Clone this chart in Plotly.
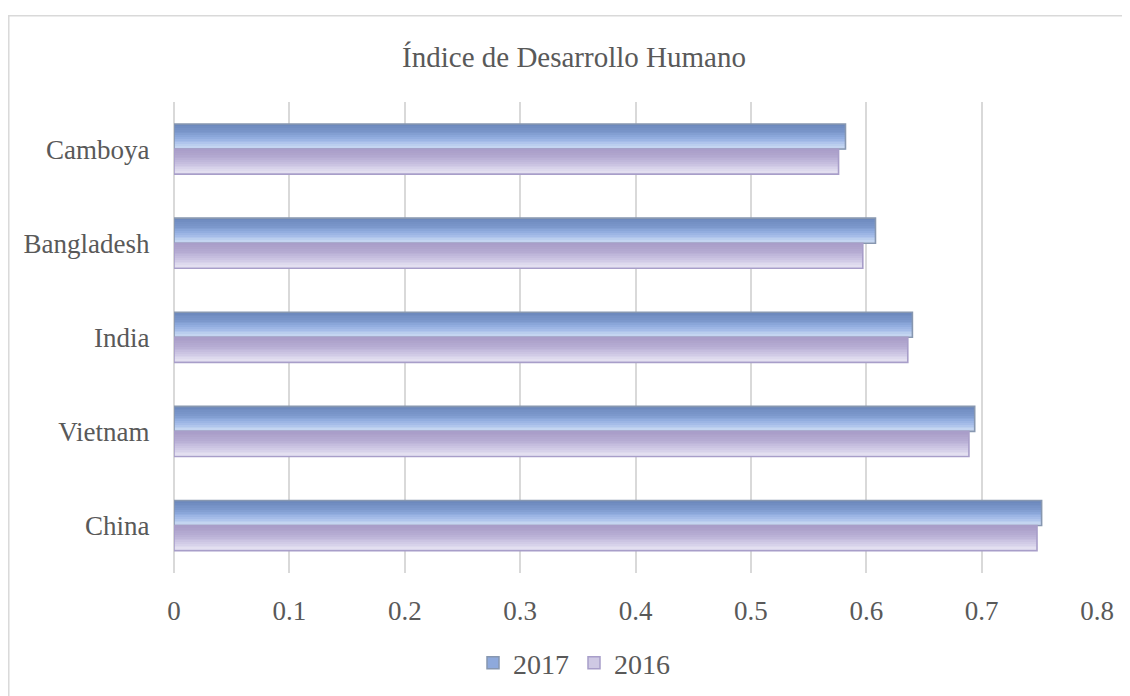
import plotly.graph_objects as go

# ---- data ----
countries = ["China", "Vietnam", "India", "Bangladesh", "Camboya"]
idh_2017 = [0.752, 0.694, 0.640, 0.608, 0.582]
idh_2016 = [0.748, 0.689, 0.636, 0.597, 0.576]
series_names = ["2017", "2016"]
x_ticks = [0, 0.1, 0.2, 0.3, 0.4, 0.5, 0.6, 0.7, 0.8]

# ---- styling ----
FONT = "Liberation Serif"
TXT = "#595959"
GRID = "#d9d9d9"
BAR_H = 0.266
N_STRIPS = 14

# figure is placed with the page's default 8px body margin
FIG_W, FIG_H = 1122, 688

# gradients listed bottom -> top
grad_2017 = ["#d3e0f4", "#bccfef", "#a3bbe8", "#8ea9dc", "#7d99cd", "#7490c4", "#6b87bb"]
grad_2016 = ["#ebe9f5", "#dedaee", "#d0cae5", "#c2badc", "#b6acd3", "#aea3cc", "#a99dc8"]
edge_2017 = "#8797b0"
edge_2016 = "#a89ec9"


def hex2rgb(h):
    h = h.lstrip("#")
    return tuple(int(h[i:i + 2], 16) for i in (0, 2, 4))


def interp(stops, t):
    n = len(stops) - 1
    pos = t * n
    i = min(int(pos), n - 1)
    f = pos - i
    a, b = hex2rgb(stops[i]), hex2rgb(stops[i + 1])
    c = [round(a[j] + (b[j] - a[j]) * f) for j in range(3)]
    return "rgb(%d,%d,%d)" % tuple(c)


fig = go.Figure()

# legend-only entries
fig.add_trace(go.Bar(x=[None], y=[None], orientation="h", name=series_names[0],
                     marker=dict(color="#8ea9dc", line=dict(color=edge_2017, width=1.5)),
                     showlegend=True))
fig.add_trace(go.Bar(x=[None], y=[None], orientation="h", name=series_names[1],
                     marker=dict(color="#cfc9e4", line=dict(color=edge_2016, width=1.5)),
                     showlegend=True))

series = [
    (idh_2017, grad_2017, edge_2017, 0.0),
    (idh_2016, grad_2016, edge_2016, -BAR_H),
]

for vals, grad, edge, base in series:
    sh = BAR_H / N_STRIPS
    for k in range(N_STRIPS):
        t = (k + 0.5) / N_STRIPS
        fig.add_trace(go.Bar(
            x=vals, y=countries, orientation="h",
            offset=base + k * sh, width=sh * 1.08,
            marker=dict(color=interp(grad, t), line=dict(width=0)),
            showlegend=False, hoverinfo="skip"))
    fig.add_trace(go.Bar(
        x=vals, y=countries, orientation="h",
        offset=base, width=BAR_H,
        marker=dict(color="rgba(0,0,0,0)", line=dict(color=edge, width=1.6)),
        showlegend=False, hoverinfo="skip"))

fig.update_layout(
    width=FIG_W, height=FIG_H,
    paper_bgcolor="white", plot_bgcolor="white",
    barmode="overlay",
    margin=dict(l=166, r=33, t=94, b=119),
    font=dict(family=FONT, color=TXT),
    title=dict(text="Índice de Desarrollo Humano", x=566 / FIG_W, xref="container",
               xanchor="center", y=1 - 49 / FIG_H, yref="container", yanchor="middle",
               font=dict(family=FONT, size=29, color=TXT)),
    legend=dict(orientation="h", x=566 / FIG_W, xref="container", xanchor="center",
                y=1 - 655 / FIG_H, yref="container", yanchor="middle",
                font=dict(family=FONT, size=28, color=TXT), traceorder="normal",
                bgcolor="rgba(0,0,0,0)"),
    showlegend=True,
)

fig.update_xaxes(range=[0, 0.8], tickvals=x_ticks, ticktext=[("%g" % v) for v in x_ticks],
                 showgrid=True, gridcolor=GRID, gridwidth=1.5,
                 zeroline=True, zerolinecolor=GRID, zerolinewidth=1.5,
                 showline=False, ticks="outside", ticklen=14,
                 tickcolor="rgba(0,0,0,0)",
                 tickfont=dict(family=FONT, size=27, color=TXT))
fig.update_yaxes(type="category", categoryorder="array", categoryarray=countries,
                 range=[-0.5, 4.5], showgrid=False, zeroline=False, showline=False,
                 ticks="outside", ticklen=18, tickcolor="rgba(0,0,0,0)",
                 tickfont=dict(family=FONT, size=27, color=TXT))

# chart-area border (top and left edges visible in the reference)
fig.add_shape(type="path", xref="paper", yref="paper",
              path="M -0.1790 -0.3 L -0.1790 1.1832 L 1.05 1.1832",
              line=dict(color=GRID, width=1.5), layer="below")

fig.write_html("out.html")
